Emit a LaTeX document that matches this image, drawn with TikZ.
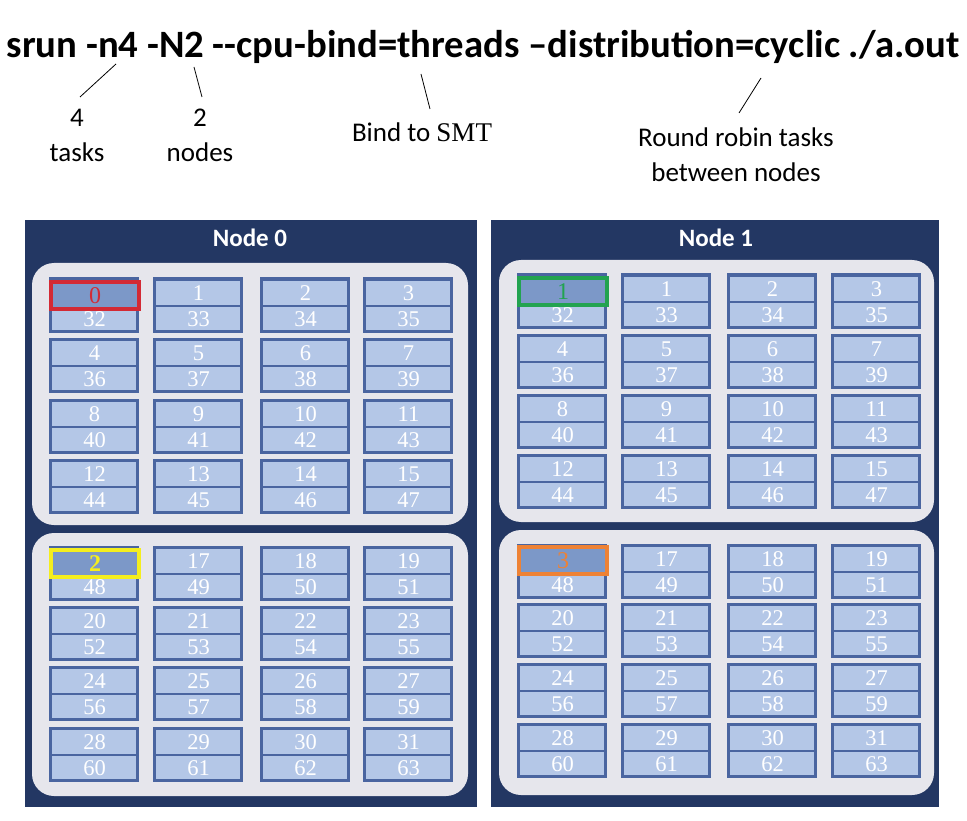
\documentclass[tikz,border=0pt]{standalone}
\usepackage{fontspec}
\setmainfont{Carlito}
\newfontfamily\serifnum{Liberation Serif}
\definecolor{panel}{HTML}{233763}
\definecolor{inner}{HTML}{E6E6EC}
\definecolor{corefill}{HTML}{B4C7E7}
\definecolor{coreline}{HTML}{4A65A0}
\definecolor{hifill}{HTML}{7C98C8}
\definecolor{hired}{HTML}{D32A35}
\definecolor{higreen}{HTML}{22A350}
\definecolor{hiyellow}{HTML}{F4EE1E}
\definecolor{hiorange}{HTML}{EE8235}
\tikzset{
  panelbox/.style={fill=panel, draw=none},
  innerbox/.style={fill=inner, draw=none, rounded corners=22pt},
  corehalf/.style={draw=coreline, line width=2pt, fill=corefill, minimum width=87pt, minimum height=26pt, inner sep=0pt, anchor=north west, text=white, font=\serifnum\fontsize{22.5}{22.5}\selectfont},
  coreframe/.style={draw=coreline, line width=3pt},
  hibox/.style={line width=4pt, fill=hifill, minimum width=88pt, minimum height=27pt, inner sep=0pt, anchor=north west, font=\serifnum\fontsize{24}{24}\selectfont},
  paneltitle/.style={text=white, font=\bfseries\fontsize{25}{25}\selectfont},
  lbl/.style={font=\fontsize{27}{27}\selectfont, align=center},
  pointer/.style={draw=black, line width=0.8pt},
}
\begin{document}
\begin{tikzpicture}[x=1pt,y=-1pt]
\useasboundingbox[fill=white] (0,0) rectangle (967,821);
% command line
\node[font=\bfseries\fontsize{38.7}{38.7}\selectfont, anchor=base, inner sep=0pt] (cmd) at (483,58) {srun -n4 -N2 -{}-cpu-bind=threads –distribution=cyclic ./a.out};
\coordinate (p1a) at (116,64); \coordinate (p1b) at (80,97);
\coordinate (p2a) at (194,67); \coordinate (p2b) at (202,97);
\coordinate (p3a) at (421,74); \coordinate (p3b) at (430,109);
\coordinate (p4a) at (761,78); \coordinate (p4b) at (739,113);
\draw[pointer] (p1a) -- (p1b);
\draw[pointer] (p2a) -- (p2b);
\draw[pointer] (p3a) -- (p3b);
\draw[pointer] (p4a) -- (p4b);
\node[lbl] (l1) at (77,135) {4\\[8pt]tasks};
\node[lbl] (l2) at (200,135) {2\\[8pt]nodes};
\node[lbl] (l3) at (422,132) {Bind to {\serifnum SMT}};
\node[lbl] (l4) at (736,155) {Round robin tasks\\[8pt]between nodes};
% panels
\fill[panelbox] (25,220) rectangle (477,807);
\fill[panelbox] (491,220) rectangle (939,807);
\node[paneltitle] (t0) at (250,238) {Node 0};
\node[paneltitle] (t1) at (716,238) {Node 1};
\fill[innerbox] (32,263) rectangle (468,525);
\fill[innerbox] (32,533) rectangle (468,796);
\fill[innerbox] (499,260) rectangle (934,522);
\fill[innerbox] (499,530) rectangle (934,795);
% cores node 0
\foreach \sec/\base/\rows in {0/0/{279,339,400,460}, 1/16/{547,607,667,728}}{
  \foreach \ry [count=\r from 0] in \rows {
    \foreach \cx [count=\c from 0] in {50,154,261,364} {
      \pgfmathtruncatemacro{\k}{\base+4*\r+\c}
      \pgfmathtruncatemacro{\h}{\k+32}
      \pgfmathtruncatemacro{\first}{\r+\c}
      \ifnum\first=0 \def\lab{}\else\let\lab\k\fi
      \node[corehalf] (a\k t) at (\cx,\ry) {\lab};
      \node[corehalf] (a\k b) at (\cx,\ry+26) {\h};
      \draw[coreframe] (\cx,\ry) rectangle (\cx+87,\ry+52);
    }
  }
}
% cores node 1
\foreach \sec/\base/\rows in {0/0/{275,335,395,455}, 1/16/{545,604,664,724}}{
  \foreach \ry [count=\r from 0] in \rows {
    \foreach \cx [count=\c from 0] in {518,622,728,832} {
      \pgfmathtruncatemacro{\k}{\base+4*\r+\c}
      \pgfmathtruncatemacro{\h}{\k+32}
      \pgfmathtruncatemacro{\first}{\r+\c}
      \ifnum\first=0 \def\lab{}\else\let\lab\k\fi
      \node[corehalf] (b\k t) at (\cx,\ry) {\lab};
      \node[corehalf] (b\k b) at (\cx,\ry+26) {\h};
      \draw[coreframe] (\cx,\ry) rectangle (\cx+87,\ry+52);
    }
  }
}
% highlighted task placements
\node[hibox, draw=hired, text=hired] (task0) at (49,280) {0};
\node[hibox, draw=higreen, text=higreen] (task1) at (517,276) {1};
\node[hibox, draw=hiyellow, text=hiyellow] (task2) at (49,548) {\bfseries 2};
\node[hibox, draw=hiorange, text=hiorange] (task3) at (517,545) {3};
\end{tikzpicture}
\end{document}
